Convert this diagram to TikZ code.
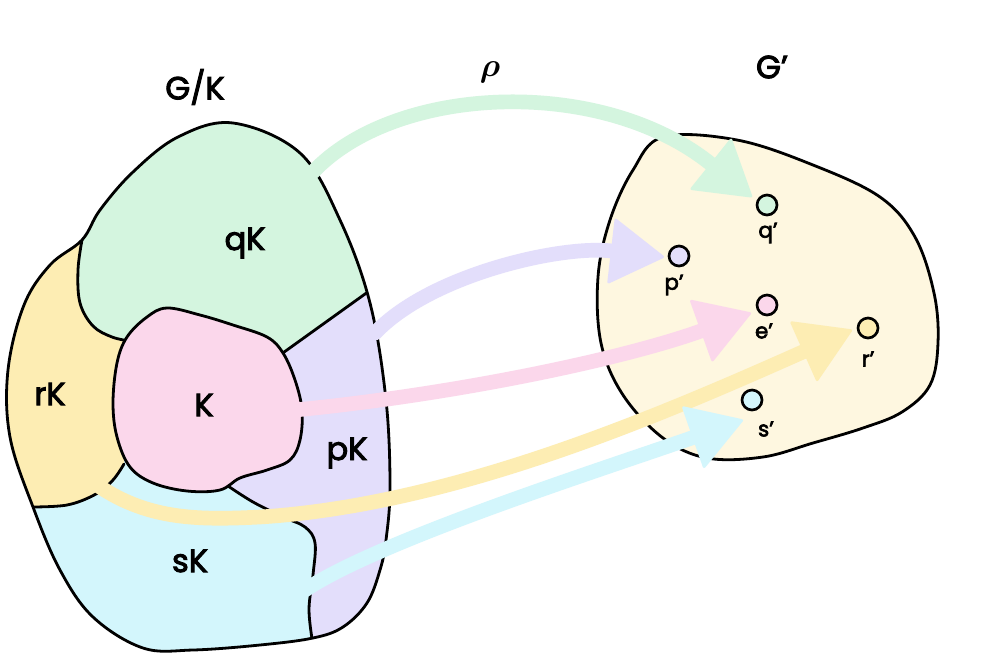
\documentclass[tikz,border=0pt]{standalone}
\usepackage{fontspec}
\usepackage{bm}
\setmainfont{Poppins}
\newfontfamily\hand{Poppins}[FakeBold=3]
\usetikzlibrary{arrows.meta}
\definecolor{cg}{RGB}{212,245,223}
\definecolor{cy}{RGB}{253,237,179}
\definecolor{cp}{RGB}{251,215,235}
\definecolor{cv}{RGB}{227,222,251}
\definecolor{cc}{RGB}{211,246,252}
\definecolor{cbg}{RGB}{254,247,224}
\tikzset{
  ink/.style={line width=2.1pt, line join=round, line cap=round, draw=black},
  arr/.style={line width=11pt, line cap=round,
    -{Triangle[length=41pt,width=50pt,line width'=2pt,round]}},
  pt/.style={circle, draw=black, line width=2pt, minimum size=15pt, inner sep=0pt},
  big/.style={font=\hand\fontsize{24}{24}\selectfont},
  small/.style={font=\hand\fontsize{16}{16}\selectfont}
}
\begin{document}
\begin{tikzpicture}[x=0.75pt,y=-0.75pt]
\useasboundingbox (0,0) rectangle (988,657);
\fill[white] (0,0) rectangle (988,657);
% ---- left blob G/K ----
\begin{scope}
\clip plot[smooth cycle, tension=0.6] coordinates {(233,123) (300,153) (340,220) (370,303) (386,400) (390,487) (386,540) (380,570) (367,603) (343,627) (313,638) (260,645) (193,650) (143,648) (93,617) (60,570) (33,507) (10,437) (8,370) (24,305) (50,265) (82,240) (100,210) (133,172) (178,137)};
\fill[cc] (0,0) rectangle (420,660);
% green
\fill[cg] (0,0) -- (0,240) -- plot[smooth, tension=0.6] coordinates {(82,240) (78,270) (80,303) (93,326) (112,337) (130,341)} -- (283,352) -- (368,292) -- (420,290) -- (420,0) -- cycle;
% purple
\fill[cv] (283,352) -- (368,292) -- (420,290) -- (420,660) -- (313,660) -- plot[smooth, tension=0.6] coordinates {(313,640) (309,610) (313,575) (315,543) (305,527) (283,517) (253,502) (228,486)} -- cycle;
% yellow
\fill[cy] (0,230) -- plot[smooth, tension=0.6] coordinates {(82,240) (78,270) (80,303) (93,326) (112,337) (130,341)} -- (124,464) -- plot[smooth, tension=0.6] coordinates {(124,464) (113,480) (96,494) (67,505) (33,507)} -- (0,507) -- cycle;
% internal boundaries
\draw[ink] plot[smooth, tension=0.6] coordinates {(82,240) (78,270) (80,303) (93,326) (112,337) (130,341)};
\draw[ink] (280,355) -- (372,289);
\draw[ink] plot[smooth, tension=0.6] coordinates {(124,464) (113,480) (96,494) (67,505) (28,507)};
\draw[ink] plot[smooth, tension=0.6] coordinates {(228,486) (253,502) (283,517) (305,527) (315,543) (313,575) (309,610) (313,645)};
\end{scope}
% K blob
\filldraw[ink, fill=cp] plot[smooth cycle, tension=0.6] coordinates {(117,363) (127,337) (147,317) (167,308) (200,315) (233,325) (267,337) (283,353) (295,380) (302,410) (300,440) (290,460) (267,470) (240,478) (220,490) (187,491) (153,483) (130,467) (117,437) (113,403)};
% outer outline
\draw[ink] plot[smooth cycle, tension=0.6] coordinates {(233,123) (300,153) (340,220) (370,303) (386,400) (390,487) (386,540) (380,570) (367,603) (343,627) (313,638) (260,645) (193,650) (143,648) (93,617) (60,570) (33,507) (10,437) (8,370) (24,305) (50,265) (82,240) (100,210) (133,172) (178,137)};
% ---- right blob G' ----
\filldraw[ink, fill=cbg] plot[smooth cycle, tension=0.6] coordinates {(663,137) (737,140) (813,165) (880,197) (915,237) (934,293) (938,343) (930,385) (902,412) (863,428) (813,443) (763,457) (707,458) (663,438) (623,395) (601,343) (598,277) (610,220) (633,170)};
% ---- source and target coordinates ----
\coordinate (sq) at (313,172);
\coordinate (sp) at (375,333);
\coordinate (se) at (295,410);
\coordinate (sr) at (100,487);
\coordinate (ss) at (305,590);
\coordinate (tq) at (752,197);
\coordinate (tp) at (664,257);
\coordinate (te) at (751,313);
\coordinate (tr) at (852,330);
\coordinate (ts) at (743,420);
% ---- arrows ----
\draw[arr, draw=cg] (sq) .. controls (395,85) and (600,75) .. (tq);
\draw[arr, draw=cv] (sp) .. controls (430,275) and (560,245) .. (tp);
\draw[arr, draw=cp] (se) .. controls (450,395) and (620,360) .. (te);
\draw[arr, draw=cy] (sr) .. controls (150,520) and (200,520) .. (260,517) .. controls (450,505) and (650,420) .. (tr);
\draw[arr, draw=cc] (ss) .. controls (380,540) and (600,470) .. (ts);
% ---- points ----
\node[pt, fill=cg] (qp) at (767,205) {};
\node[pt, fill=cv] (pp) at (679,256) {};
\node[pt, fill=cp] (ep) at (767,305) {};
\node[pt, fill=cy] (rp) at (868,328) {};
\node[pt, fill=cc] (sp2) at (752,400) {};
\node[small] (lq) at (768,233) {q’};
\node[small] (lp) at (674,285) {p’};
\node[small] (le) at (764,331) {e’};
\node[small] (lr) at (868,359) {r’};
\node[small] (ls) at (766,429) {s’};
% ---- labels ----
\node[big] (lGK) at (195,87) {G/K};
\node[big] (lG) at (772,67) {G’};
\node (lrho) at (490,72) {\fontsize{32}{32}\selectfont$\bm{\rho}$};
\node[big] (lqK) at (245,243) {qK};
\node[big] (lrK) at (50,394) {rK};
\node[big] (lK) at (204,405) {K};
\node[big] (lpK) at (347,453) {pK};
\node[big] (lsK) at (190,561) {sK};
\end{tikzpicture}
\end{document}
